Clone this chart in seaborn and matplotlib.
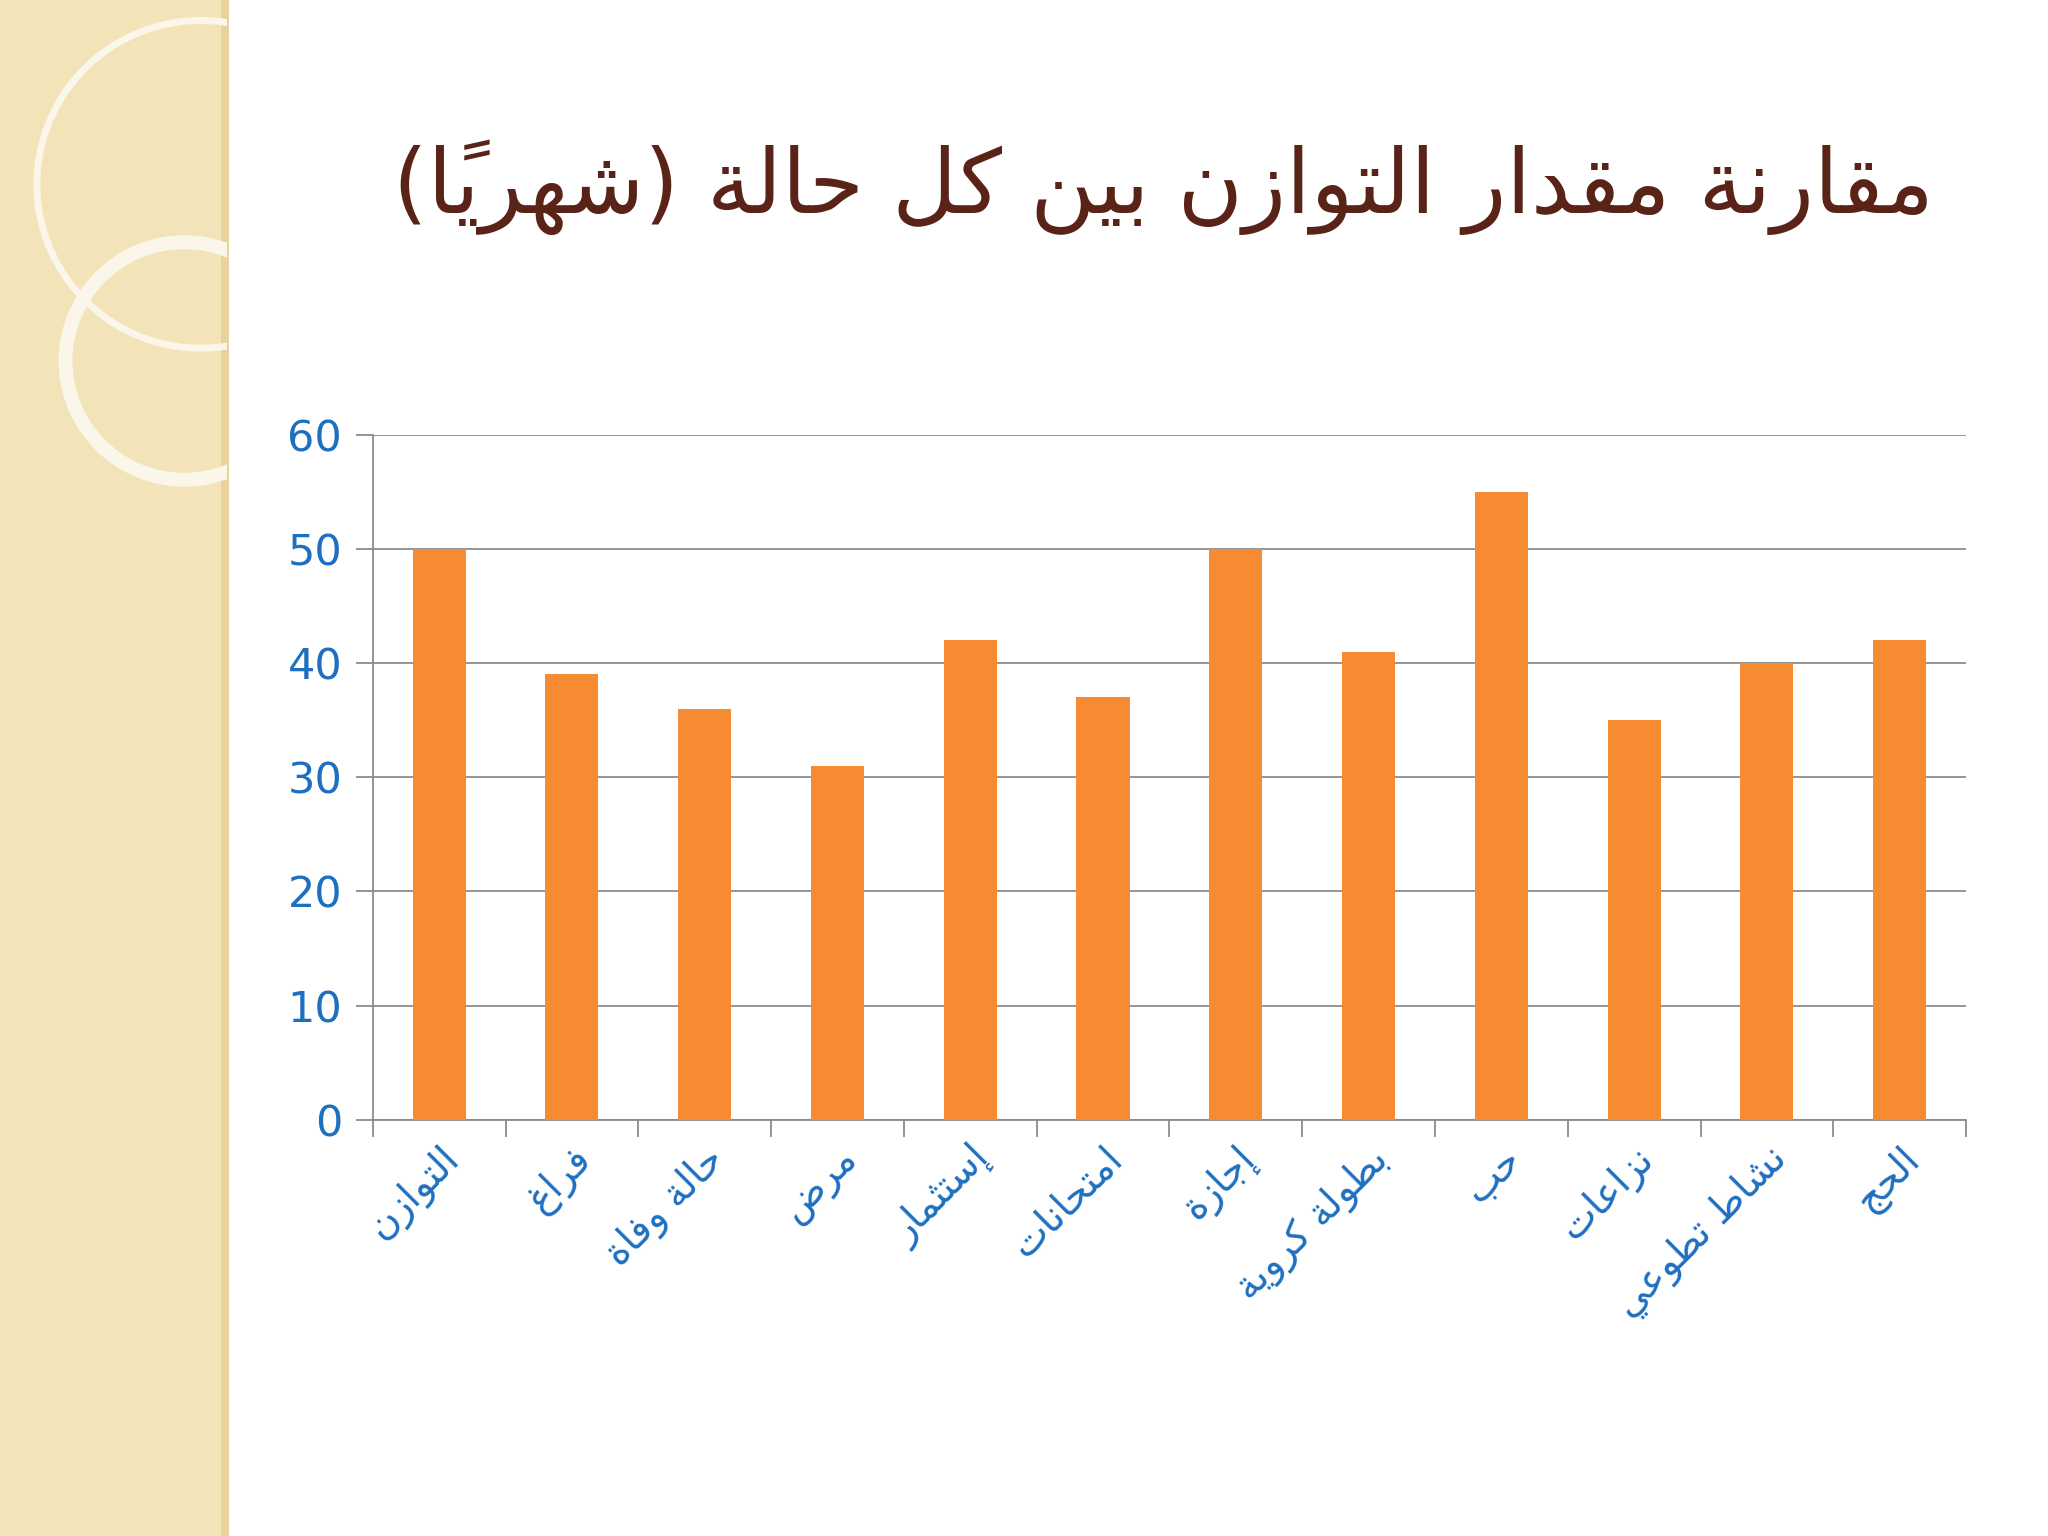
import matplotlib
matplotlib.use('Agg')
import matplotlib.pyplot as plt
import seaborn as sns
import pandas as pd
from matplotlib.patches import Rectangle, Circle

# Data
categories = ['التوازن', 'فراغ', 'حالة وفاة', 'مرض', 'إستثمار', 'امتحانات',
              'إجازة', 'بطولة كروية', 'حب', 'نزاعات', 'نشاط تطوعي', 'الحج']
values = [50, 39, 36, 31, 42, 37, 50, 41, 55, 35, 40, 42]
title = 'مقارنة مقدار التوازن بين كل حالة (شهرياً)'

# Minimal Arabic shaping (presentation forms) + visual reordering
dual = {'ئ': 0xFE89, 'ب': 0xFE8F, 'ت': 0xFE95, 'ث': 0xFE99, 'ج': 0xFE9D, 'ح': 0xFEA1,
        'خ': 0xFEA5, 'س': 0xFEB1, 'ش': 0xFEB5, 'ص': 0xFEB9, 'ض': 0xFEBD, 'ط': 0xFEC1,
        'ظ': 0xFEC5, 'ع': 0xFEC9, 'غ': 0xFECD, 'ف': 0xFED1, 'ق': 0xFED5, 'ك': 0xFED9,
        'ل': 0xFEDD, 'م': 0xFEE1, 'ن': 0xFEE5, 'ه': 0xFEE9, 'ي': 0xFEF1}
right = {'آ': 0xFE81, 'أ': 0xFE83, 'ؤ': 0xFE85, 'إ': 0xFE87, 'ا': 0xFE8D, 'ة': 0xFE93,
         'د': 0xFEA9, 'ذ': 0xFEAB, 'ر': 0xFEAD, 'ز': 0xFEAF, 'و': 0xFEED, 'ى': 0xFEEF}
marks = set('\u064B\u064C\u064D\u064E\u064F\u0650\u0651\u0652')


def shape(s):
    # group base letters with their marks
    units = []
    for ch in s:
        if ch in marks and units:
            units[-1][1] += ch
        else:
            units.append([ch, ''])
    letters = [u[0] for u in units]
    out = []
    for i, (ch, mk) in enumerate(units):
        prev = letters[i - 1] if i > 0 else None
        nxt = letters[i + 1] if i + 1 < len(letters) else None
        jp = prev in dual
        jn = ch in dual and (nxt in dual or nxt in right)
        if ch in dual:
            base = dual[ch]
            form = base + (3 if jp and jn else 1 if jp else 2 if jn else 0)
            g = chr(form)
        elif ch in right:
            g = chr(right[ch] + (1 if jp else 0))
        else:
            g = {'(': ')', ')': '('}.get(ch, ch)
        out.append(g + mk)
    return ''.join(out[::-1])


sns.set_theme(style='white')
plt.rcParams['font.family'] = ['DejaVu Sans']

fig = plt.figure(figsize=(20.48, 15.36), dpi=100)
fig.patch.set_facecolor('white')

# Decorative left strip
strip = Rectangle((0, 0), 0.111, 1, transform=fig.transFigure,
                  facecolor='#f3e3b8', edgecolor='none', zorder=0)
fig.patches.append(strip)
fig.patches.append(Rectangle((0.108, 0), 0.004, 1, transform=fig.transFigure,
                             facecolor='#e8d39c', edgecolor='none', zorder=0))
for cx, cy, r, lw in [(0.098, 0.88, 0.08, 5), (0.09, 0.765, 0.058, 10)]:
    c = Circle((cx * 2048, cy * 1536), r * 2048, transform=None,
               facecolor='none', edgecolor='#fbf6ea', lw=lw, zorder=1)
    c.set_clip_path(strip)
    fig.patches.append(c)

ax = fig.add_axes([0.182, 0.271, 0.778, 0.446])
df = pd.DataFrame({'cat': categories, 'val': values})
sns.barplot(data=df, x='cat', y='val', color='#f68b33', saturation=1, width=0.4,
            linewidth=0, ax=ax, zorder=3)

ax.set_ylim(0, 60)
ax.set_xlim(-0.5, len(categories) - 0.5)
ax.set_yticks(range(0, 61, 10))
ax.yaxis.grid(True, color='#8c8c8c', lw=1.3, zorder=0)
ax.set_axisbelow(True)
for side in ['top', 'right']:
    ax.spines[side].set_visible(False)
ax.spines['left'].set_color('#8c8c8c')
ax.spines['bottom'].set_color('#8c8c8c')
ax.spines['left'].set_linewidth(1.3)
ax.spines['bottom'].set_linewidth(1.3)
ax.set_xlabel('')
ax.set_ylabel('')

ax.set_xticks(range(len(categories)))
ax.set_xticklabels([shape(c) for c in categories], rotation=45, ha='right',
                   rotation_mode='anchor', fontsize=28, color='#1e6fc0')
ax.set_xticks([i - 0.5 for i in range(len(categories) + 1)], minor=True)
ax.tick_params(axis='x', which='major', length=0, pad=14)
ax.tick_params(axis='x', which='minor', length=12, color='#8c8c8c', width=1.3, bottom=True)
ax.tick_params(axis='y', length=12, color='#8c8c8c', width=1.3, left=True,
               labelsize=31, labelcolor='#1e6fc0', pad=10)

fig.text(0.568, 0.878, shape(title), ha='center', va='center',
         fontsize=64, color='#5a2318')

fig.savefig('out.png', dpi=100)
